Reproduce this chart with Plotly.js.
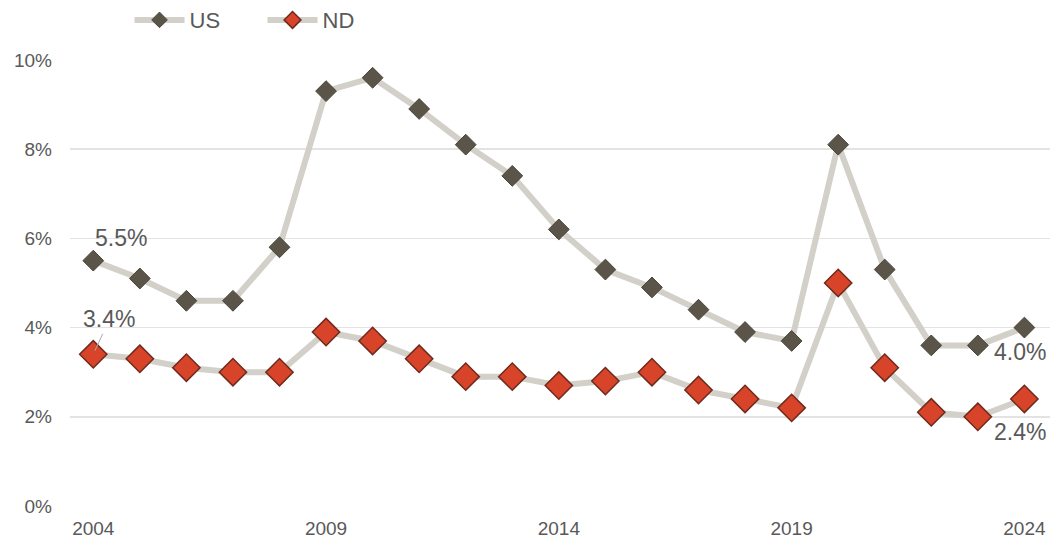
<!DOCTYPE html>
<html>
<head>
<meta charset="utf-8">
<script src="https://cdn.plot.ly/plotly-3.0.1.min.js"></script>
<style>html,body{margin:0;padding:0;background:#fff;}#chart{width:1053px;height:543px;}</style>
</head>
<body>
<div id="chart"></div>
<script>
const years = [2004,2005,2006,2007,2008,2009,2010,2011,2012,2013,2014,2015,2016,2017,2018,2019,2020,2021,2022,2023,2024];
const usRate = [5.5,5.1,4.6,4.6,5.8,9.3,9.6,8.9,8.1,7.4,6.2,5.3,4.9,4.4,3.9,3.7,8.1,5.3,3.6,3.6,4.0];
const ndRate = [3.4,3.3,3.1,3.0,3.0,3.9,3.7,3.3,2.9,2.9,2.7,2.8,3.0,2.6,2.4,2.2,5.0,3.1,2.1,2.0,2.4];
const tickYears = [2004,2009,2014,2019,2024];
const yTicks = [0,2,4,6,8,10];
const yTickLabels = ['0%','2%','4%','6%','8%','10%'];

const font = 'Liberation Sans, Arial, sans-serif';
const txt = '#595959';
const lineCol = '#d2d0c8';
const usMarker = {symbol: 'diamond', color: '#5b5448', line: {color: '#4a443a', width: 1}};
const ndMarker = {symbol: 'diamond', color: '#d8442a', line: {color: '#6e2a1c', width: 1.5}};

const traces = [
  {x: years, y: usRate, name: 'US', type: 'scatter', mode: 'lines+markers', showlegend: false,
   line: {color: lineCol, width: 6}, marker: Object.assign({size: 16}, usMarker)},
  {x: years, y: ndRate, name: 'ND', type: 'scatter', mode: 'lines+markers', showlegend: false,
   line: {color: lineCol, width: 6}, marker: Object.assign({size: 21}, ndMarker)},
  // legend entries
  {x: [null], y: [null], name: 'US', type: 'scatter', mode: 'lines+markers',
   line: {color: lineCol, width: 6}, marker: Object.assign({size: 12}, usMarker)},
  {x: [null], y: [null], name: 'ND', type: 'scatter', mode: 'lines+markers',
   line: {color: lineCol, width: 6}, marker: Object.assign({size: 13}, ndMarker)}
];

const last = years.length - 1;
const annFont = {family: font, size: 23, color: txt};
const layout = {
  width: 1053, height: 543,
  margin: {l: 70, r: 3, t: 59, b: 37},
  paper_bgcolor: '#fff', plot_bgcolor: '#fff',
  font: {family: font, color: txt, size: 19},
  showlegend: true,
  legend: {orientation: 'h', xref: 'container', yref: 'container', x: 0.123, xanchor: 'left', y: 0.963, yanchor: 'middle',
           font: {family: font, size: 22, color: txt}, itemwidth: 50, entrywidth: 68, tracegroupgap: 0},
  xaxis: {range: [2003.5, 2024.55], tickmode: 'array', tickvals: tickYears, ticktext: tickYears.map(String),
          showgrid: false, zeroline: false, showline: false, ticks: '', ticklabelstandoff: 9,
          tickfont: {family: font, size: 19, color: txt}},
  yaxis: {range: [0, 10.02], tickmode: 'array', tickvals: yTicks, ticktext: yTickLabels,
          showgrid: true, gridcolor: '#e3e3e3', gridwidth: 1.5, zeroline: false, showline: false, ticks: '',
          ticklabelstandoff: 17, tickfont: {family: font, size: 19, color: txt}},
  annotations: [
    {x: years[0], y: usRate[0], text: usRate[0].toFixed(1) + '%', showarrow: false, xshift: 28, yshift: 23, font: annFont},
    {x: years[0], y: ndRate[0], text: ndRate[0].toFixed(1) + '%', showarrow: true, arrowhead: 0, arrowwidth: 1, arrowcolor: '#aaa',
     ax: 16, ay: -35, standoff: 4, font: annFont},
    {x: years[last], y: usRate[last], text: usRate[last].toFixed(1) + '%', showarrow: false, xshift: -4, yshift: -24, font: annFont},
    {x: years[last], y: ndRate[last], text: ndRate[last].toFixed(1) + '%', showarrow: false, xshift: -4, yshift: -33, font: annFont}
  ]
};

Plotly.newPlot('chart', traces, layout, {displayModeBar: false, staticPlot: true});
</script>
</body>
</html>
